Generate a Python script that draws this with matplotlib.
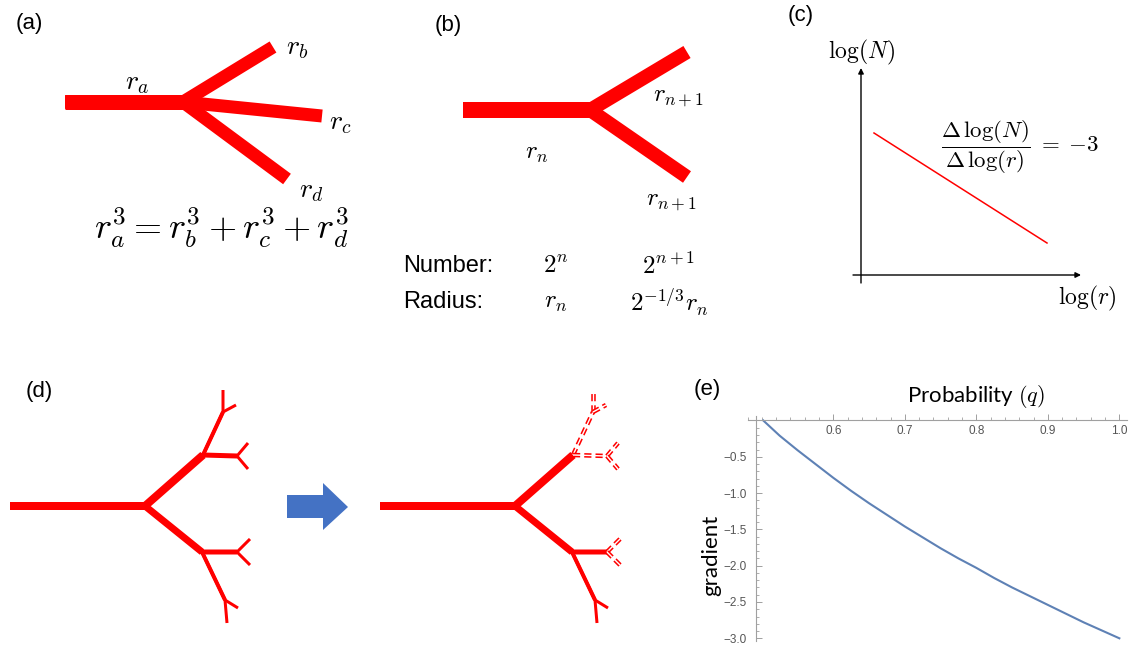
import matplotlib.pyplot as plt
from matplotlib.patches import Polygon
from matplotlib.ticker import MultipleLocator

plt.rcParams['mathtext.fontset'] = 'cm'

W, H = 1137, 645
RED = '#ff0000'
PX = 0.72  # pixels -> points at dpi 100

# ---- panel (a): one trunk splitting in three (figure pixels) ----
a_trunk = [(65, 102), (183, 102)]
a_branch_ends = [(273, 47), (322, 116), (287, 179)]
a_labels = [(r'$r_a$', 137, 82), (r'$r_b$', 297, 47), (r'$r_c$', 340, 122), (r'$r_d$', 311, 190)]
a_equation = r'$r_a^3 = r_b^3 + r_c^3 + r_d^3$'

# ---- panel (b): bifurcation ----
b_trunk = [(463, 110), (590, 110)]
b_branch_ends = [(687, 52), (687, 177)]
b_labels = [(r'$r_{n+1}$', 678, 97), (r'$r_n$', 537, 153), (r'$r_{n+1}$', 671, 201)]
b_rows = ['Number:', 'Radius:']
b_col1 = [r'$2^n$', r'$r_n$']
b_col2 = [r'$2^{n+1}$', r'$2^{-1/3}r_n$']

# ---- panel (c): schematic log-log line ----
c_line_x = [874, 1047]
c_line_y = [133, 243]

# ---- panel (d): tree nodes, edges (parent, child, width px) ----
tree_nodes = {
    'root': (10, 506), 'J': (145, 506), 'U': (203, 455), 'D': (202, 552),
    'UU': (223, 412), 'UR': (237, 456), 'DR': (237, 552), 'DD': (225, 600),
    'UUa': (223, 390), 'UUb': (236, 405), 'URa': (248, 443), 'URb': (248, 469),
    'DRa': (250, 539), 'DRb': (250, 565), 'DDa': (227, 623), 'DDb': (238, 608),
}
tree_edges = [
    ('root', 'J', 7), ('J', 'U', 8), ('J', 'D', 7),
    ('U', 'UU', 4), ('U', 'UR', 5), ('D', 'DR', 5), ('D', 'DD', 4),
    ('UU', 'UUa', 3), ('UU', 'UUb', 3), ('UR', 'URa', 3), ('UR', 'URb', 3),
    ('DR', 'DRa', 3), ('DR', 'DRb', 3), ('DD', 'DDa', 3), ('DD', 'DDb', 3),
]
pruned_edges = [('U', 'UU'), ('U', 'UR'), ('UU', 'UUa'), ('UU', 'UUb'),
                ('UR', 'URa'), ('UR', 'URb'), ('DR', 'DRa'), ('DR', 'DRb')]
tree_shift = 370
arrow_x = [287, 323, 323, 348, 323, 323, 287]
arrow_y = [495, 495, 483, 507, 530, 518, 518]

# ---- panel (e): gradient vs probability ----
q_vals = [0.502, 0.525, 0.55, 0.575, 0.60, 0.625, 0.65, 0.675, 0.70, 0.725, 0.75,
          0.775, 0.80, 0.825, 0.85, 0.875, 0.90, 0.925, 0.95, 0.975, 1.00]
grad_vals = [0.0, -0.21, -0.41, -0.60, -0.79, -0.97, -1.14, -1.30, -1.46, -1.61, -1.76,
             -1.90, -2.03, -2.17, -2.30, -2.42, -2.54, -2.66, -2.78, -2.89, -3.00]
x_ticks = [0.6, 0.7, 0.8, 0.9, 1.0]
x_tick_labels = ['0.6', '0.7', '0.8', '0.9', '1.0']
y_ticks = [-0.5, -1.0, -1.5, -2.0, -2.5, -3.0]
y_tick_labels = ['\u22120.5', '\u22121.0', '\u22121.5', '\u22122.0', '\u22122.5', '\u22123.0']


def seg(ax, pts, w, **kw):
    xs = [p[0] for p in pts]
    ys = [p[1] for p in pts]
    style = dict(color=RED, lw=w * PX, solid_capstyle='butt', solid_joinstyle='miter')
    style.update(kw)
    return ax.plot(xs, ys, **style)


fig = plt.figure(figsize=(W / 100, H / 100), dpi=100)
ax = fig.add_axes([0, 0, 1, 1])
ax.set_xlim(0, W)
ax.set_ylim(H, 0)
ax.axis('off')

label_font = dict(family='Liberation Sans', fontsize=16, ha='center', va='center')

# (a)
ax.text(29, 24, '(a)', **label_font)
seg(ax, a_trunk, 15)
for end in a_branch_ends:
    seg(ax, [a_trunk[0], a_trunk[1], end], 13)
for s, x, y in a_labels:
    ax.text(x, y, s, fontsize=20, ha='center', va='center')
ax.text(221, 228, a_equation, fontsize=26, ha='center', va='center')

# (b)
ax.text(448, 25, '(b)', **label_font)
seg(ax, b_trunk, 16)
for end in b_branch_ends:
    seg(ax, [b_trunk[0], b_trunk[1], end], 14)
for s, x, y in b_labels:
    ax.text(x, y, s, fontsize=18, ha='center', va='center')
for i, row in enumerate(b_rows):
    y = 266 + 36 * i
    ax.text(403, y, row, family='Liberation Sans', fontsize=17, ha='left', va='center')
    ax.text(556, y, b_col1[i], fontsize=18, ha='center', va='center')
    ax.text(669, y, b_col2[i], fontsize=18, ha='center', va='center')

# (c)
ax.text(801, 15, '(c)', **label_font)
arrow_kw = dict(arrowstyle='-|>', lw=1.0, color='black', mutation_scale=8, shrinkA=0, shrinkB=0)
ax.annotate('', xy=(861, 68), xytext=(861, 283), arrowprops=arrow_kw)
ax.annotate('', xy=(1081, 275), xytext=(853, 275), arrowprops=arrow_kw)
ax.plot(c_line_x, c_line_y, color=RED, lw=1.1)
ax.text(862, 52, r'$\log(N)$', fontsize=17, ha='center', va='center')
ax.text(1087, 298, r'$\log(r)$', fontsize=17, ha='center', va='center')
ax.text(1020, 147, r'$\dfrac{\Delta\,\log(N)}{\Delta\,\log(r)}\;=\;{-3}$', fontsize=16.5,
        ha='center', va='center')

# (d)
ax.text(39, 391, '(d)', **label_font)
parent_of = {c: p for p, c, _ in tree_edges}
for shift in (0, tree_shift):
    for p, c, w in tree_edges:
        pts = [tree_nodes[p], tree_nodes[c]]
        if p in parent_of:
            pts = [tree_nodes[parent_of[p]]] + pts
        pts = [(x + shift, y) for x, y in pts]
        if shift and (p, c) in pruned_edges:
            line = pts[-2:]
            seg(ax, line, 4.5, linestyle=(0, (1.6, 0.9)), dash_capstyle='butt')
            seg(ax, line, 1.4, color='white')
        else:
            seg(ax, pts, w)
ax.add_patch(Polygon(list(zip(arrow_x, arrow_y)), closed=True, color='#4472c4', lw=0))

# (e)
ax.text(707, 390, '(e)', **label_font)
ax.text(976, 397, r'Probability $(q)$', family='Lato', fontsize=16, ha='center', va='center')
ax.text(711, 555, 'gradient', family='Lato', fontsize=16, rotation=90, ha='center', va='center')

axe = fig.add_axes([747.5 / W, (H - 641.2) / H, 379 / W, (641.2 - 416.1) / H])
axe.patch.set_visible(False)
axe.plot(q_vals, grad_vals, color='#5e81b5', lw=1.5)
axe.set_xlim(0.48, 1.01)
axe.set_ylim(-3.04, 0.06)
axe.spines['left'].set_position(('data', 0.492))
axe.spines['bottom'].set_position(('data', 0))
axe.spines[['top', 'right']].set_visible(False)
for s in ('left', 'bottom'):
    axe.spines[s].set_color('#a0a0a0')
    axe.spines[s].set_linewidth(0.8)
axe.set_xticks(x_ticks, x_tick_labels, family='Liberation Sans')
axe.set_yticks(y_ticks, y_tick_labels, family='Liberation Sans')
axe.xaxis.set_minor_locator(MultipleLocator(0.02))
axe.yaxis.set_minor_locator(MultipleLocator(0.1))
axe.tick_params(which='both', direction='in', color='#a0a0a0', labelcolor='#555555', labelsize=8.5)
axe.tick_params(which='major', length=4, width=0.7)
axe.tick_params(which='minor', length=2, width=0.6)
axe.tick_params(axis='y', pad=7)

fig.savefig('out.png', dpi=100)
